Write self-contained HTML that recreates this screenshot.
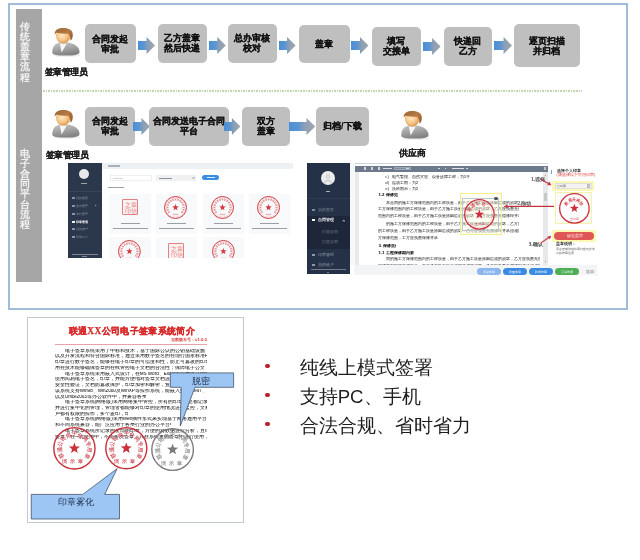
<!DOCTYPE html><html><head><meta charset="utf-8"><style>
*{margin:0;padding:0;box-sizing:border-box}
html,body{width:640px;height:560px;overflow:hidden;background:#fff;font-family:'Liberation Sans',sans-serif;}
.ab{position:absolute;display:block}
.bx{position:absolute;display:flex;align-items:center;justify-content:center;text-align:center;font-weight:bold;color:#111;white-space:nowrap;-webkit-text-stroke:0.2px #111}
.t{position:absolute;white-space:nowrap}
#wrap{position:absolute;left:0;top:0;width:640px;height:560px;background:#fff;filter:blur(0.3px)}
</style></head><body><div id="wrap">
<div class="ab" style="left:8px;top:3px;width:620px;height:307px;border:2px solid #a2bbd7"></div>
<div class="ab" style="left:16px;top:9px;width:26px;height:273px;background:#a6a6a6"></div>
<div class="t" style="left:20px;top:21.5px;width:10px;font-size:9.6px;line-height:10.2px;color:#f4f4f4;font-weight:bold;white-space:normal;text-align:center">传<br>统<br>盖<br>章<br>流<br>程</div>
<div class="t" style="left:20px;top:148.5px;width:10px;font-size:9.6px;line-height:10.2px;color:#f4f4f4;font-weight:bold;white-space:normal;text-align:center">电<br>子<br>合<br>同<br>平<br>台<br>流<br>程</div>
<svg class="ab" style="left:51px;top:27px" width="31" height="31" viewBox="0 0 31 31">
<defs>
<radialGradient id="ska" cx="0.42" cy="0.4" r="0.65"><stop offset="0" stop-color="#fde8c4"/><stop offset="0.55" stop-color="#f6c688"/><stop offset="1" stop-color="#d9914a"/></radialGradient>
<linearGradient id="bda" x1="0" x2="0.3" y1="0" y2="1"><stop offset="0" stop-color="#c6c6c6"/><stop offset="0.55" stop-color="#a2a2a2"/><stop offset="1" stop-color="#828282"/></linearGradient>
<linearGradient id="hra" x1="0" x2="1" y1="0" y2="1"><stop offset="0" stop-color="#9a6434"/><stop offset="0.5" stop-color="#b57a45"/><stop offset="1" stop-color="#8a5226"/></linearGradient>
</defs>
<ellipse cx="16" cy="28.6" rx="13.5" ry="1.4" fill="#000" opacity="0.07"/>
<path d="M1.2,25.5 C1.2,20 4,16.6 9,15.6 L16,15.6 C23,16.2 28.5,19.6 28.5,25 C28.5,27.6 24,28.6 15,28.6 C6,28.6 1.2,27.8 1.2,25.5 Z" fill="url(#bda)"/>
<path d="M8.8,16.2 L10.6,25.6 L15.8,16.6 Z" fill="#f6f6f6"/>
<path d="M5,8.5 C5,4.5 8,3 12,3 C16.5,3 19.2,5 19.2,9 C19.2,13 16.2,16.6 12,16.6 C8,16.6 5,13 5,8.5 Z" fill="url(#ska)"/>
<path d="M3.7,7.5 C3.4,2.8 7.5,1.1 12.6,1.1 C18,1.1 21.9,3.2 21.8,8 C21.8,10.6 21,12.6 19.4,13.6 C19.6,10.2 18.8,7.6 17.2,6.4 C13.5,6.9 8.5,6.6 5.4,5.8 C4.8,6.4 4.2,7 3.7,7.5 Z" fill="url(#hra)"/>
</svg>
<div class="t" style="left:44.6px;top:66.3px;font-size:9px;letter-spacing:-0.5px;font-weight:bold;color:#1a1a1a;-webkit-text-stroke:0.1px #1a1a1a">签章管理员</div>
<div class="bx" style="left:85px;top:24px;width:50.5px;height:39px;border-radius:5px;background:#bfbfbf"><div style="font-size:9px;line-height:10px;margin-top:0px">合同发起<br>审批</div></div>
<div class="bx" style="left:157.5px;top:24px;width:49.5px;height:38.5px;border-radius:5px;background:#bfbfbf"><div style="font-size:9px;line-height:10px;margin-top:0px">乙方盖章<br>然后快递</div></div>
<div class="bx" style="left:228px;top:24px;width:48.5px;height:38.5px;border-radius:5px;background:#bfbfbf"><div style="font-size:9px;line-height:10px;margin-top:0px">总办审核<br>校对</div></div>
<div class="bx" style="left:299px;top:25.2px;width:50.5px;height:38.3px;border-radius:5px;background:#bfbfbf"><div style="font-size:9px;line-height:10px;margin-top:0px">盖章</div></div>
<div class="bx" style="left:371.5px;top:26.5px;width:49.0px;height:39.0px;border-radius:5px;background:#bfbfbf"><div style="font-size:9px;line-height:10px;margin-top:0px">填写<br>交接单</div></div>
<div class="bx" style="left:443.5px;top:26.5px;width:48.5px;height:39.0px;border-radius:5px;background:#bfbfbf"><div style="font-size:9px;line-height:10px;margin-top:0px">快递回<br>乙方</div></div>
<div class="bx" style="left:514px;top:24.2px;width:65.5px;height:42.8px;border-radius:5px;background:#bfbfbf"><div style="font-size:9px;line-height:10px;margin-top:0px">逐页扫描<br>并归档</div></div>
<svg class="ab" style="left:138.2px;top:37.0px" width="17.0" height="17" viewBox="0 0 17.0 17"><defs><linearGradient id="ag1" x1="0" x2="1" y1="0" y2="0"><stop offset="0" stop-color="#4a8fd8"/><stop offset="0.35" stop-color="#5b95d2"/><stop offset="0.6" stop-color="#8c9fb5"/><stop offset="1" stop-color="#a2a6ac"/></linearGradient></defs><polygon points="0,4.0 8.600000000000023,4.0 8.600000000000023,0 17.0,8.5 8.600000000000023,17 8.600000000000023,13.0 0,13.0" fill="url(#ag1)"/></svg>
<svg class="ab" style="left:209px;top:37.0px" width="16.80000000000001" height="17" viewBox="0 0 16.80000000000001 17"><defs><linearGradient id="ag2" x1="0" x2="1" y1="0" y2="0"><stop offset="0" stop-color="#4a8fd8"/><stop offset="0.35" stop-color="#5b95d2"/><stop offset="0.6" stop-color="#8c9fb5"/><stop offset="1" stop-color="#a2a6ac"/></linearGradient></defs><polygon points="0,4.0 8.300000000000011,4.0 8.300000000000011,0 16.80000000000001,8.5 8.300000000000011,17 8.300000000000011,13.0 0,13.0" fill="url(#ag2)"/></svg>
<svg class="ab" style="left:279px;top:37.0px" width="16.600000000000023" height="17" viewBox="0 0 16.600000000000023 17"><defs><linearGradient id="ag3" x1="0" x2="1" y1="0" y2="0"><stop offset="0" stop-color="#4a8fd8"/><stop offset="0.35" stop-color="#5b95d2"/><stop offset="0.6" stop-color="#8c9fb5"/><stop offset="1" stop-color="#a2a6ac"/></linearGradient></defs><polygon points="0,4.0 8.100000000000023,4.0 8.100000000000023,0 16.600000000000023,8.5 8.100000000000023,17 8.100000000000023,13.0 0,13.0" fill="url(#ag3)"/></svg>
<svg class="ab" style="left:351px;top:37.0px" width="17.5" height="17" viewBox="0 0 17.5 17"><defs><linearGradient id="ag4" x1="0" x2="1" y1="0" y2="0"><stop offset="0" stop-color="#4a8fd8"/><stop offset="0.35" stop-color="#5b95d2"/><stop offset="0.6" stop-color="#8c9fb5"/><stop offset="1" stop-color="#a2a6ac"/></linearGradient></defs><polygon points="0,4.0 9.0,4.0 9.0,0 17.5,8.5 9.0,17 9.0,13.0 0,13.0" fill="url(#ag4)"/></svg>
<svg class="ab" style="left:423px;top:37.5px" width="17.600000000000023" height="17" viewBox="0 0 17.600000000000023 17"><defs><linearGradient id="ag5" x1="0" x2="1" y1="0" y2="0"><stop offset="0" stop-color="#4a8fd8"/><stop offset="0.35" stop-color="#5b95d2"/><stop offset="0.6" stop-color="#8c9fb5"/><stop offset="1" stop-color="#a2a6ac"/></linearGradient></defs><polygon points="0,4.0 9.100000000000023,4.0 9.100000000000023,0 17.600000000000023,8.5 9.100000000000023,17 9.100000000000023,13.0 0,13.0" fill="url(#ag5)"/></svg>
<svg class="ab" style="left:493.5px;top:37.3px" width="18.100000000000023" height="17" viewBox="0 0 18.100000000000023 17"><defs><linearGradient id="ag6" x1="0" x2="1" y1="0" y2="0"><stop offset="0" stop-color="#4a8fd8"/><stop offset="0.35" stop-color="#5b95d2"/><stop offset="0.6" stop-color="#8c9fb5"/><stop offset="1" stop-color="#a2a6ac"/></linearGradient></defs><polygon points="0,4.0 9.600000000000023,4.0 9.600000000000023,0 18.100000000000023,8.5 9.600000000000023,17 9.600000000000023,13.0 0,13.0" fill="url(#ag6)"/></svg>
<div class="ab" style="left:43px;top:90.4px;width:539px;height:1.2px;background:repeating-linear-gradient(90deg,#bfd6b0 0 1.6px,rgba(255,255,255,0) 1.6px 2.6px)"></div>
<svg class="ab" style="left:51px;top:109px" width="31" height="31" viewBox="0 0 31 31">
<defs>
<radialGradient id="skb" cx="0.42" cy="0.4" r="0.65"><stop offset="0" stop-color="#fde8c4"/><stop offset="0.55" stop-color="#f6c688"/><stop offset="1" stop-color="#d9914a"/></radialGradient>
<linearGradient id="bdb" x1="0" x2="0.3" y1="0" y2="1"><stop offset="0" stop-color="#c6c6c6"/><stop offset="0.55" stop-color="#a2a2a2"/><stop offset="1" stop-color="#828282"/></linearGradient>
<linearGradient id="hrb" x1="0" x2="1" y1="0" y2="1"><stop offset="0" stop-color="#9a6434"/><stop offset="0.5" stop-color="#b57a45"/><stop offset="1" stop-color="#8a5226"/></linearGradient>
</defs>
<ellipse cx="16" cy="28.6" rx="13.5" ry="1.4" fill="#000" opacity="0.07"/>
<path d="M1.2,25.5 C1.2,20 4,16.6 9,15.6 L16,15.6 C23,16.2 28.5,19.6 28.5,25 C28.5,27.6 24,28.6 15,28.6 C6,28.6 1.2,27.8 1.2,25.5 Z" fill="url(#bdb)"/>
<path d="M8.8,16.2 L10.6,25.6 L15.8,16.6 Z" fill="#f6f6f6"/>
<path d="M5,8.5 C5,4.5 8,3 12,3 C16.5,3 19.2,5 19.2,9 C19.2,13 16.2,16.6 12,16.6 C8,16.6 5,13 5,8.5 Z" fill="url(#skb)"/>
<path d="M3.7,7.5 C3.4,2.8 7.5,1.1 12.6,1.1 C18,1.1 21.9,3.2 21.8,8 C21.8,10.6 21,12.6 19.4,13.6 C19.6,10.2 18.8,7.6 17.2,6.4 C13.5,6.9 8.5,6.6 5.4,5.8 C4.8,6.4 4.2,7 3.7,7.5 Z" fill="url(#hrb)"/>
</svg>
<div class="t" style="left:45.7px;top:149px;font-size:9px;letter-spacing:-0.5px;font-weight:bold;color:#1a1a1a;-webkit-text-stroke:0.1px #1a1a1a">签章管理员</div>
<div class="bx" style="left:85.25px;top:106.5px;width:49.75px;height:39.0px;border-radius:5px;background:#bfbfbf"><div style="font-size:9px;line-height:10px;margin-top:0px">合同发起<br>审批</div></div>
<div class="bx" style="left:148.6px;top:106.5px;width:80.4px;height:39.0px;border-radius:5px;background:#bfbfbf"><div style="font-size:9px;line-height:10px;margin-top:0px">合同发送电子合同<br>平台</div></div>
<div class="bx" style="left:242.2px;top:106.5px;width:47.60000000000002px;height:39.0px;border-radius:5px;background:#bfbfbf"><div style="font-size:9px;line-height:10px;margin-top:0px">双方<br>盖章</div></div>
<div class="bx" style="left:315.6px;top:106.5px;width:53.39999999999998px;height:39.0px;border-radius:5px;background:#bfbfbf"><div style="font-size:9px;line-height:10px;margin-top:0px">归档/下载</div></div>
<svg class="ab" style="left:132.5px;top:117.8px" width="16.900000000000006" height="17" viewBox="0 0 16.900000000000006 17"><defs><linearGradient id="ag7" x1="0" x2="1" y1="0" y2="0"><stop offset="0" stop-color="#4a8fd8"/><stop offset="0.35" stop-color="#5b95d2"/><stop offset="0.6" stop-color="#8c9fb5"/><stop offset="1" stop-color="#a2a6ac"/></linearGradient></defs><polygon points="0,4.0 8.5,4.0 8.5,0 16.900000000000006,8.5 8.5,17 8.5,13.0 0,13.0" fill="url(#ag7)"/></svg>
<svg class="ab" style="left:224.4px;top:118.0px" width="16.400000000000006" height="17" viewBox="0 0 16.400000000000006 17"><defs><linearGradient id="ag8" x1="0" x2="1" y1="0" y2="0"><stop offset="0" stop-color="#4a8fd8"/><stop offset="0.35" stop-color="#5b95d2"/><stop offset="0.6" stop-color="#8c9fb5"/><stop offset="1" stop-color="#a2a6ac"/></linearGradient></defs><polygon points="0,4.0 7.900000000000006,4.0 7.900000000000006,0 16.400000000000006,8.5 7.900000000000006,17 7.900000000000006,13.0 0,13.0" fill="url(#ag8)"/></svg>
<svg class="ab" style="left:288.75px;top:117.9px" width="26.25" height="17" viewBox="0 0 26.25 17"><defs><linearGradient id="ag9" x1="0" x2="1" y1="0" y2="0"><stop offset="0" stop-color="#4a8fd8"/><stop offset="0.35" stop-color="#5b95d2"/><stop offset="0.6" stop-color="#8c9fb5"/><stop offset="1" stop-color="#a2a6ac"/></linearGradient></defs><polygon points="0,4.0 17.5,4.0 17.5,0 26.25,8.5 17.5,17 17.5,13.0 0,13.0" fill="url(#ag9)"/></svg>
<svg class="ab" style="left:400px;top:110px" width="31" height="31" viewBox="0 0 31 31">
<defs>
<radialGradient id="skc" cx="0.42" cy="0.4" r="0.65"><stop offset="0" stop-color="#fde8c4"/><stop offset="0.55" stop-color="#f6c688"/><stop offset="1" stop-color="#d9914a"/></radialGradient>
<linearGradient id="bdc" x1="0" x2="0.3" y1="0" y2="1"><stop offset="0" stop-color="#c6c6c6"/><stop offset="0.55" stop-color="#a2a2a2"/><stop offset="1" stop-color="#828282"/></linearGradient>
<linearGradient id="hrc" x1="0" x2="1" y1="0" y2="1"><stop offset="0" stop-color="#9a6434"/><stop offset="0.5" stop-color="#b57a45"/><stop offset="1" stop-color="#8a5226"/></linearGradient>
</defs>
<ellipse cx="16" cy="28.6" rx="13.5" ry="1.4" fill="#000" opacity="0.07"/>
<path d="M1.2,25.5 C1.2,20 4,16.6 9,15.6 L16,15.6 C23,16.2 28.5,19.6 28.5,25 C28.5,27.6 24,28.6 15,28.6 C6,28.6 1.2,27.8 1.2,25.5 Z" fill="url(#bdc)"/>
<path d="M8.8,16.2 L10.6,25.6 L15.8,16.6 Z" fill="#f6f6f6"/>
<path d="M5,8.5 C5,4.5 8,3 12,3 C16.5,3 19.2,5 19.2,9 C19.2,13 16.2,16.6 12,16.6 C8,16.6 5,13 5,8.5 Z" fill="url(#skc)"/>
<path d="M3.7,7.5 C3.4,2.8 7.5,1.1 12.6,1.1 C18,1.1 21.9,3.2 21.8,8 C21.8,10.6 21,12.6 19.4,13.6 C19.6,10.2 18.8,7.6 17.2,6.4 C13.5,6.9 8.5,6.6 5.4,5.8 C4.8,6.4 4.2,7 3.7,7.5 Z" fill="url(#hrc)"/>
</svg>
<div class="t" style="left:398.6px;top:148px;font-size:8.5px;font-weight:bold;color:#1a1a1a;-webkit-text-stroke:0.1px #1a1a1a">供应商</div>
<div class="ab" style="left:68px;top:162.8px;width:33.8px;height:95.6px;background:#2b374b"></div>
<div class="ab" style="left:79.3px;top:169.1px;width:10.2px;height:10.2px;border-radius:50%;background:#e9e9e9"></div>
<div class="ab" style="left:81.3px;top:183px;width:5.5px;height:1.3px;background:#9aa3b0"></div>
<div class="ab" style="left:68px;top:190.5px;width:33.8px;height:0.6px;background:#36445a"></div>
<div class="ab" style="left:72.2px;top:197.2px;width:2.4px;height:2px;background:#8a94a4"></div>
<div class="t" style="left:76.4px;top:196.2px;font-size:3.3px;line-height:4px;color:#8a94a4;font-weight:normal">我的首页</div>
<div class="ab" style="left:72.2px;top:204.8px;width:2.4px;height:2px;background:#8a94a4"></div>
<div class="t" style="left:76.4px;top:203.8px;font-size:3.3px;line-height:4px;color:#8a94a4;font-weight:normal">合同管理</div>
<div class="ab" style="left:72.2px;top:212.8px;width:2.4px;height:2px;background:#8a94a4"></div>
<div class="t" style="left:76.4px;top:211.8px;font-size:3.3px;line-height:4px;color:#8a94a4;font-weight:normal">签约管理</div>
<div class="ab" style="left:72.2px;top:220.5px;width:2.4px;height:2px;background:#f2f4f6"></div>
<div class="t" style="left:76.4px;top:219.5px;font-size:3.3px;line-height:4px;color:#f2f4f6;font-weight:bold">印章管理</div>
<div class="ab" style="left:72.2px;top:228px;width:2.4px;height:2px;background:#8a94a4"></div>
<div class="t" style="left:76.4px;top:227px;font-size:3.3px;line-height:4px;color:#8a94a4;font-weight:normal">我的账户</div>
<div class="ab" style="left:72.2px;top:236px;width:2.4px;height:2px;background:#8a94a4"></div>
<div class="t" style="left:76.4px;top:235px;font-size:3.3px;line-height:4px;color:#8a94a4;font-weight:normal">帮助中心</div>
<div class="ab" style="left:95.3px;top:205px;width:1.4px;height:1.4px;border-right:0.5px solid #8e98a8;border-bottom:0.5px solid #8e98a8;transform:rotate(45deg)"></div>
<div class="ab" style="left:72px;top:253.8px;width:25.6px;height:1.2px;background:#7d8797"></div>
<div class="ab" style="left:82px;top:256.3px;width:5px;height:1px;background:#7d8797"></div>
<div class="ab" style="left:101.8px;top:162.8px;width:193px;height:96px;background:#ffffff"></div>
<div class="ab" style="left:101.8px;top:163.2px;width:191.5px;height:5.5px;background:#eef1f4"></div>
<div class="ab" style="left:108px;top:165.4px;width:12px;height:1.2px;background:#a8b0ba"></div>
<div class="ab" style="left:110px;top:175.2px;width:41.5px;height:5.4px;border:0.5px solid #eceef0;background:#fff"></div>
<div class="ab" style="left:113px;top:177.5px;width:10px;height:1px;background:#d4d8dd"></div>
<div class="ab" style="left:156px;top:175.2px;width:40px;height:5.6px;background:#f0f1f3"></div>
<div class="ab" style="left:158.5px;top:177.5px;width:13px;height:1.1px;background:#8d939b"></div>
<div class="ab" style="left:192px;top:176.5px;width:2.5px;height:2.5px;background:#c9ccd0"></div>
<div class="ab" style="left:202.4px;top:175.1px;width:16.8px;height:4.8px;border-radius:3px;background:#3b8ee6"></div>
<div class="ab" style="left:206.5px;top:177px;width:8.5px;height:1px;background:#d6e7fb"></div>
<div class="ab" style="left:108px;top:187px;width:16px;height:1.2px;background:#9aa1aa"></div>
<div class="ab" style="left:109.4px;top:193.8px;width:41.400000000000006px;height:40.5px;background:#f8f9fb"></div>
<div class="ab" style="left:121.90000000000002px;top:199px;width:15.8px;height:15.8px;border:1px solid #e27474;border-radius:1px;background:#fdf1f1;opacity:.9"><div style="position:absolute;left:1.896px;top:1.58px;width:12.008000000000001px;font-size:5.688px;line-height:6.0040000000000004px;color:#e27474;display:grid;grid-template-columns:1fr 1fr;text-align:center"><span>之</span><span>章</span><span>印</span><span>信</span></div></div>
<div class="ab" style="left:120.60000000000002px;top:222.9px;width:19px;height:1.1px;background:#9a9fa6"></div>
<div class="ab" style="left:112.60000000000002px;top:228.3px;width:35px;height:1.1px;background:#9a9fa6"></div>
<div class="ab" style="left:156px;top:193.8px;width:41.19999999999999px;height:40.5px;background:#f8f9fb"></div>
<svg class="ab" style="left:162.0px;top:194.0px;opacity:1.0" width="27.0" height="27.0" viewBox="0 0 27.0 27.0"><circle cx="13.5" cy="13.5" r="11.0" fill="none" stroke="#d43a40" stroke-width="1.0"/><circle cx="13.5" cy="13.5" r="9.66" fill="none" stroke="#d43a40" stroke-width="0.4" opacity="0.45"/><rect x="6.16" y="17.20" width="1.50" height="1.84" fill="#d43a40" opacity="0.55" transform="rotate(-125.0 6.91 18.12)"/><rect x="5.06" y="14.95" width="1.50" height="1.84" fill="#d43a40" opacity="0.55" transform="rotate(-107.1 5.81 15.87)"/><rect x="4.70" y="12.48" width="1.50" height="1.84" fill="#d43a40" opacity="0.55" transform="rotate(-89.3 5.45 13.40)"/><rect x="5.12" y="10.02" width="1.50" height="1.84" fill="#d43a40" opacity="0.55" transform="rotate(-71.4 5.87 10.94)"/><rect x="6.28" y="7.80" width="1.50" height="1.84" fill="#d43a40" opacity="0.55" transform="rotate(-53.6 7.02 8.72)"/><rect x="8.05" y="6.04" width="1.50" height="1.84" fill="#d43a40" opacity="0.55" transform="rotate(-35.7 8.80 6.96)"/><rect x="10.28" y="4.92" width="1.50" height="1.84" fill="#d43a40" opacity="0.55" transform="rotate(-17.9 11.03 5.84)"/><rect x="12.75" y="4.53" width="1.50" height="1.84" fill="#d43a40" opacity="0.55" transform="rotate(0.0 13.50 5.45)"/><rect x="15.22" y="4.92" width="1.50" height="1.84" fill="#d43a40" opacity="0.55" transform="rotate(17.9 15.97 5.84)"/><rect x="17.45" y="6.04" width="1.50" height="1.84" fill="#d43a40" opacity="0.55" transform="rotate(35.7 18.20 6.96)"/><rect x="19.23" y="7.80" width="1.50" height="1.84" fill="#d43a40" opacity="0.55" transform="rotate(53.6 19.98 8.72)"/><rect x="20.38" y="10.02" width="1.50" height="1.84" fill="#d43a40" opacity="0.55" transform="rotate(71.4 21.13 10.94)"/><rect x="20.80" y="12.48" width="1.50" height="1.84" fill="#d43a40" opacity="0.55" transform="rotate(89.3 21.55 13.40)"/><rect x="20.44" y="14.95" width="1.50" height="1.84" fill="#d43a40" opacity="0.55" transform="rotate(107.1 21.19 15.87)"/><rect x="19.35" y="17.20" width="1.50" height="1.84" fill="#d43a40" opacity="0.55" transform="rotate(125.0 20.09 18.12)"/><rect x="10.62" y="19.82" width="5.75" height="1.38" fill="#d43a40" opacity="0.35"/><polygon points="13.50,10.10 14.34,12.34 16.73,12.45 14.86,13.94 15.50,16.25 13.50,14.93 11.50,16.25 12.14,13.94 10.27,12.45 12.66,12.34" fill="#d43a40"/></svg>
<div class="ab" style="left:167.1px;top:222.9px;width:19px;height:1.1px;background:#9a9fa6"></div>
<div class="ab" style="left:159.1px;top:228.3px;width:35px;height:1.1px;background:#9a9fa6"></div>
<div class="ab" style="left:202.9px;top:193.8px;width:40.900000000000006px;height:40.5px;background:#f8f9fb"></div>
<svg class="ab" style="left:208.75000000000003px;top:194.0px;opacity:1.0" width="27.0" height="27.0" viewBox="0 0 27.0 27.0"><circle cx="13.5" cy="13.5" r="11.0" fill="none" stroke="#d43a40" stroke-width="1.0"/><circle cx="13.5" cy="13.5" r="9.66" fill="none" stroke="#d43a40" stroke-width="0.4" opacity="0.45"/><rect x="6.16" y="17.20" width="1.50" height="1.84" fill="#d43a40" opacity="0.55" transform="rotate(-125.0 6.91 18.12)"/><rect x="5.06" y="14.95" width="1.50" height="1.84" fill="#d43a40" opacity="0.55" transform="rotate(-107.1 5.81 15.87)"/><rect x="4.70" y="12.48" width="1.50" height="1.84" fill="#d43a40" opacity="0.55" transform="rotate(-89.3 5.45 13.40)"/><rect x="5.12" y="10.02" width="1.50" height="1.84" fill="#d43a40" opacity="0.55" transform="rotate(-71.4 5.87 10.94)"/><rect x="6.28" y="7.80" width="1.50" height="1.84" fill="#d43a40" opacity="0.55" transform="rotate(-53.6 7.02 8.72)"/><rect x="8.05" y="6.04" width="1.50" height="1.84" fill="#d43a40" opacity="0.55" transform="rotate(-35.7 8.80 6.96)"/><rect x="10.28" y="4.92" width="1.50" height="1.84" fill="#d43a40" opacity="0.55" transform="rotate(-17.9 11.03 5.84)"/><rect x="12.75" y="4.53" width="1.50" height="1.84" fill="#d43a40" opacity="0.55" transform="rotate(0.0 13.50 5.45)"/><rect x="15.22" y="4.92" width="1.50" height="1.84" fill="#d43a40" opacity="0.55" transform="rotate(17.9 15.97 5.84)"/><rect x="17.45" y="6.04" width="1.50" height="1.84" fill="#d43a40" opacity="0.55" transform="rotate(35.7 18.20 6.96)"/><rect x="19.23" y="7.80" width="1.50" height="1.84" fill="#d43a40" opacity="0.55" transform="rotate(53.6 19.98 8.72)"/><rect x="20.38" y="10.02" width="1.50" height="1.84" fill="#d43a40" opacity="0.55" transform="rotate(71.4 21.13 10.94)"/><rect x="20.80" y="12.48" width="1.50" height="1.84" fill="#d43a40" opacity="0.55" transform="rotate(89.3 21.55 13.40)"/><rect x="20.44" y="14.95" width="1.50" height="1.84" fill="#d43a40" opacity="0.55" transform="rotate(107.1 21.19 15.87)"/><rect x="19.35" y="17.20" width="1.50" height="1.84" fill="#d43a40" opacity="0.55" transform="rotate(125.0 20.09 18.12)"/><rect x="10.62" y="19.82" width="5.75" height="1.38" fill="#d43a40" opacity="0.35"/><polygon points="13.50,10.10 14.34,12.34 16.73,12.45 14.86,13.94 15.50,16.25 13.50,14.93 11.50,16.25 12.14,13.94 10.27,12.45 12.66,12.34" fill="#d43a40"/></svg>
<div class="ab" style="left:213.85000000000002px;top:222.9px;width:19px;height:1.1px;background:#9a9fa6"></div>
<div class="ab" style="left:205.85000000000002px;top:228.3px;width:35px;height:1.1px;background:#9a9fa6"></div>
<div class="ab" style="left:249.3px;top:193.8px;width:41.19999999999999px;height:40.5px;background:#f8f9fb"></div>
<svg class="ab" style="left:255.29999999999995px;top:194.0px;opacity:1.0" width="27.0" height="27.0" viewBox="0 0 27.0 27.0"><circle cx="13.5" cy="13.5" r="11.0" fill="none" stroke="#d43a40" stroke-width="1.0"/><circle cx="13.5" cy="13.5" r="9.66" fill="none" stroke="#d43a40" stroke-width="0.4" opacity="0.45"/><rect x="6.16" y="17.20" width="1.50" height="1.84" fill="#d43a40" opacity="0.55" transform="rotate(-125.0 6.91 18.12)"/><rect x="5.06" y="14.95" width="1.50" height="1.84" fill="#d43a40" opacity="0.55" transform="rotate(-107.1 5.81 15.87)"/><rect x="4.70" y="12.48" width="1.50" height="1.84" fill="#d43a40" opacity="0.55" transform="rotate(-89.3 5.45 13.40)"/><rect x="5.12" y="10.02" width="1.50" height="1.84" fill="#d43a40" opacity="0.55" transform="rotate(-71.4 5.87 10.94)"/><rect x="6.28" y="7.80" width="1.50" height="1.84" fill="#d43a40" opacity="0.55" transform="rotate(-53.6 7.02 8.72)"/><rect x="8.05" y="6.04" width="1.50" height="1.84" fill="#d43a40" opacity="0.55" transform="rotate(-35.7 8.80 6.96)"/><rect x="10.28" y="4.92" width="1.50" height="1.84" fill="#d43a40" opacity="0.55" transform="rotate(-17.9 11.03 5.84)"/><rect x="12.75" y="4.53" width="1.50" height="1.84" fill="#d43a40" opacity="0.55" transform="rotate(0.0 13.50 5.45)"/><rect x="15.22" y="4.92" width="1.50" height="1.84" fill="#d43a40" opacity="0.55" transform="rotate(17.9 15.97 5.84)"/><rect x="17.45" y="6.04" width="1.50" height="1.84" fill="#d43a40" opacity="0.55" transform="rotate(35.7 18.20 6.96)"/><rect x="19.23" y="7.80" width="1.50" height="1.84" fill="#d43a40" opacity="0.55" transform="rotate(53.6 19.98 8.72)"/><rect x="20.38" y="10.02" width="1.50" height="1.84" fill="#d43a40" opacity="0.55" transform="rotate(71.4 21.13 10.94)"/><rect x="20.80" y="12.48" width="1.50" height="1.84" fill="#d43a40" opacity="0.55" transform="rotate(89.3 21.55 13.40)"/><rect x="20.44" y="14.95" width="1.50" height="1.84" fill="#d43a40" opacity="0.55" transform="rotate(107.1 21.19 15.87)"/><rect x="19.35" y="17.20" width="1.50" height="1.84" fill="#d43a40" opacity="0.55" transform="rotate(125.0 20.09 18.12)"/><rect x="10.62" y="19.82" width="5.75" height="1.38" fill="#d43a40" opacity="0.35"/><polygon points="13.50,10.10 14.34,12.34 16.73,12.45 14.86,13.94 15.50,16.25 13.50,14.93 11.50,16.25 12.14,13.94 10.27,12.45 12.66,12.34" fill="#d43a40"/></svg>
<div class="ab" style="left:260.4px;top:222.9px;width:19px;height:1.1px;background:#9a9fa6"></div>
<div class="ab" style="left:252.39999999999998px;top:228.3px;width:35px;height:1.1px;background:#9a9fa6"></div>
<div class="ab" style="left:109.4px;top:237px;width:41.400000000000006px;height:21.4px;background:#f8f9fb;overflow:hidden"></div>
<div class="ab" style="left:156px;top:237px;width:41.19999999999999px;height:21.4px;background:#f8f9fb;overflow:hidden"></div>
<div class="ab" style="left:202.9px;top:237px;width:40.900000000000006px;height:21.4px;background:#f8f9fb;overflow:hidden"></div>
<div class="ab" style="left:0;top:0;width:640px;height:258.4px;overflow:hidden">
<svg class="ab" style="left:116.19999999999999px;top:238.1px;opacity:1.0" width="26.8" height="26.8" viewBox="0 0 26.8 26.8"><circle cx="13.4" cy="13.4" r="10.9" fill="none" stroke="#d43a40" stroke-width="1.0"/><circle cx="13.4" cy="13.4" r="9.576" fill="none" stroke="#d43a40" stroke-width="0.4" opacity="0.45"/><rect x="6.12" y="17.07" width="1.48" height="1.82" fill="#d43a40" opacity="0.55" transform="rotate(-125.0 6.86 17.98)"/><rect x="5.03" y="14.84" width="1.48" height="1.82" fill="#d43a40" opacity="0.55" transform="rotate(-107.1 5.77 15.75)"/><rect x="4.68" y="12.39" width="1.48" height="1.82" fill="#d43a40" opacity="0.55" transform="rotate(-89.3 5.42 13.30)"/><rect x="5.09" y="9.95" width="1.48" height="1.82" fill="#d43a40" opacity="0.55" transform="rotate(-71.4 5.84 10.86)"/><rect x="6.24" y="7.75" width="1.48" height="1.82" fill="#d43a40" opacity="0.55" transform="rotate(-53.6 6.98 8.66)"/><rect x="8.00" y="6.01" width="1.48" height="1.82" fill="#d43a40" opacity="0.55" transform="rotate(-35.7 8.74 6.92)"/><rect x="10.21" y="4.89" width="1.48" height="1.82" fill="#d43a40" opacity="0.55" transform="rotate(-17.9 10.95 5.80)"/><rect x="12.66" y="4.51" width="1.48" height="1.82" fill="#d43a40" opacity="0.55" transform="rotate(0.0 13.40 5.42)"/><rect x="15.11" y="4.89" width="1.48" height="1.82" fill="#d43a40" opacity="0.55" transform="rotate(17.9 15.85 5.80)"/><rect x="17.32" y="6.01" width="1.48" height="1.82" fill="#d43a40" opacity="0.55" transform="rotate(35.7 18.06 6.92)"/><rect x="19.08" y="7.75" width="1.48" height="1.82" fill="#d43a40" opacity="0.55" transform="rotate(53.6 19.82 8.66)"/><rect x="20.22" y="9.95" width="1.48" height="1.82" fill="#d43a40" opacity="0.55" transform="rotate(71.4 20.96 10.86)"/><rect x="20.64" y="12.39" width="1.48" height="1.82" fill="#d43a40" opacity="0.55" transform="rotate(89.3 21.38 13.30)"/><rect x="20.28" y="14.84" width="1.48" height="1.82" fill="#d43a40" opacity="0.55" transform="rotate(107.1 21.03 15.75)"/><rect x="19.20" y="17.07" width="1.48" height="1.82" fill="#d43a40" opacity="0.55" transform="rotate(125.0 19.94 17.98)"/><rect x="10.55" y="19.67" width="5.70" height="1.37" fill="#d43a40" opacity="0.35"/><polygon points="13.40,10.00 14.24,12.24 16.63,12.35 14.76,13.84 15.40,16.15 13.40,14.83 11.40,16.15 12.04,13.84 10.17,12.35 12.56,12.24" fill="#d43a40"/></svg>
<div class="ab" style="left:168.4px;top:243px;width:15.8px;height:15.8px;border:1px solid #e27474;border-radius:1px;background:#fdf1f1;opacity:.9"><div style="position:absolute;left:1.896px;top:1.58px;width:12.008000000000001px;font-size:5.688px;line-height:6.0040000000000004px;color:#e27474;display:grid;grid-template-columns:1fr 1fr;text-align:center"><span>之</span><span>章</span><span>印</span><span>信</span></div></div>
<svg class="ab" style="left:209.9px;top:238.1px;opacity:1.0" width="26.8" height="26.8" viewBox="0 0 26.8 26.8"><circle cx="13.4" cy="13.4" r="10.9" fill="none" stroke="#d43a40" stroke-width="1.0"/><circle cx="13.4" cy="13.4" r="9.576" fill="none" stroke="#d43a40" stroke-width="0.4" opacity="0.45"/><rect x="6.12" y="17.07" width="1.48" height="1.82" fill="#d43a40" opacity="0.55" transform="rotate(-125.0 6.86 17.98)"/><rect x="5.03" y="14.84" width="1.48" height="1.82" fill="#d43a40" opacity="0.55" transform="rotate(-107.1 5.77 15.75)"/><rect x="4.68" y="12.39" width="1.48" height="1.82" fill="#d43a40" opacity="0.55" transform="rotate(-89.3 5.42 13.30)"/><rect x="5.09" y="9.95" width="1.48" height="1.82" fill="#d43a40" opacity="0.55" transform="rotate(-71.4 5.84 10.86)"/><rect x="6.24" y="7.75" width="1.48" height="1.82" fill="#d43a40" opacity="0.55" transform="rotate(-53.6 6.98 8.66)"/><rect x="8.00" y="6.01" width="1.48" height="1.82" fill="#d43a40" opacity="0.55" transform="rotate(-35.7 8.74 6.92)"/><rect x="10.21" y="4.89" width="1.48" height="1.82" fill="#d43a40" opacity="0.55" transform="rotate(-17.9 10.95 5.80)"/><rect x="12.66" y="4.51" width="1.48" height="1.82" fill="#d43a40" opacity="0.55" transform="rotate(0.0 13.40 5.42)"/><rect x="15.11" y="4.89" width="1.48" height="1.82" fill="#d43a40" opacity="0.55" transform="rotate(17.9 15.85 5.80)"/><rect x="17.32" y="6.01" width="1.48" height="1.82" fill="#d43a40" opacity="0.55" transform="rotate(35.7 18.06 6.92)"/><rect x="19.08" y="7.75" width="1.48" height="1.82" fill="#d43a40" opacity="0.55" transform="rotate(53.6 19.82 8.66)"/><rect x="20.22" y="9.95" width="1.48" height="1.82" fill="#d43a40" opacity="0.55" transform="rotate(71.4 20.96 10.86)"/><rect x="20.64" y="12.39" width="1.48" height="1.82" fill="#d43a40" opacity="0.55" transform="rotate(89.3 21.38 13.30)"/><rect x="20.28" y="14.84" width="1.48" height="1.82" fill="#d43a40" opacity="0.55" transform="rotate(107.1 21.03 15.75)"/><rect x="19.20" y="17.07" width="1.48" height="1.82" fill="#d43a40" opacity="0.55" transform="rotate(125.0 19.94 17.98)"/><rect x="10.55" y="19.67" width="5.70" height="1.37" fill="#d43a40" opacity="0.35"/><polygon points="13.40,10.00 14.24,12.24 16.63,12.35 14.76,13.84 15.40,16.15 13.40,14.83 11.40,16.15 12.04,13.84 10.17,12.35 12.56,12.24" fill="#d43a40"/></svg>
</div>
<div class="ab" style="left:306.9px;top:162.6px;width:290.6px;height:113.6px;background:#fff;border-top:0.8px solid #cdd5de;border-right:0.6px solid #e4e8ec"></div>
<div class="ab" style="left:306.9px;top:162.8px;width:43.5px;height:111.6px;background:#253146"></div>
<div class="ab" style="left:306.9px;top:215.8px;width:43.5px;height:32.8px;background:#1d2739"></div>
<div class="ab" style="left:321.1px;top:171.4px;width:14px;height:14px;border-radius:50%;background:#ececec"></div>
<div class="ab" style="left:325.8px;top:174.3px;width:4.6px;height:4.6px;border-radius:50%;border:0.5px solid #c8c8c8"></div>
<div class="ab" style="left:323.8px;top:179.5px;width:8.6px;height:4px;border-radius:4px 4px 0 0;border:0.5px solid #c8c8c8;border-bottom:none"></div>
<div class="ab" style="left:326.3px;top:190.6px;width:4px;height:1.1px;background:#aab2be"></div>
<div class="ab" style="left:306.9px;top:197.8px;width:43.5px;height:0.7px;background:#2f3c52"></div>
<div class="ab" style="left:312.3px;top:208.8px;width:2.6px;height:2.4px;background:#7f8a9b"></div>
<div class="t" style="left:318.2px;top:208px;font-size:3.6px;line-height:4px;color:#7f8a9b;font-weight:normal">我的首页</div>
<div class="ab" style="left:312.3px;top:219.10000000000002px;width:2.6px;height:2.4px;background:#f4f6f8"></div>
<div class="t" style="left:318.2px;top:218.3px;font-size:3.6px;line-height:4px;color:#f4f6f8;font-weight:bold">合同管理</div>
<div class="ab" style="left:342.5px;top:219.8px;width:1.6px;height:1.6px;border-left:0.5px solid #9aa3b0;border-top:0.5px solid #9aa3b0;transform:rotate(45deg)"></div>
<div class="t" style="left:322px;top:230px;font-size:3.6px;line-height:4px;color:#6f7a8b;font-weight:normal">待签合同</div>
<div class="t" style="left:322px;top:239.5px;font-size:3.6px;line-height:4px;color:#6f7a8b;font-weight:normal">已签合同</div>
<div class="ab" style="left:312.3px;top:253.8px;width:2.6px;height:2.4px;background:#8e98a8"></div>
<div class="t" style="left:318.2px;top:253px;font-size:3.6px;line-height:4px;color:#8e98a8;font-weight:normal">印章管理</div>
<div class="ab" style="left:312.3px;top:263.6px;width:2.6px;height:2.4px;background:#8e98a8"></div>
<div class="t" style="left:318.2px;top:262.8px;font-size:3.6px;line-height:4px;color:#8e98a8;font-weight:normal">我的账户</div>
<div class="ab" style="left:311px;top:269px;width:34.5px;height:1px;background:#6f7a8b"></div>
<div class="ab" style="left:327px;top:272px;width:2px;height:1px;background:#6f7a8b"></div>
<div class="ab" style="left:350.4px;top:162.8px;width:4.4px;height:102.7px;background:#f7f8f9"></div>
<div class="ab" style="left:354.8px;top:165.5px;width:193.6px;height:6.2px;background:#6c7a8c"></div>
<div class="ab" style="left:364px;top:167.4px;width:2.2px;height:2.4px;background:#e2e6ea;opacity:.85"></div>
<div class="ab" style="left:371px;top:167.4px;width:2.2px;height:2.4px;background:#e2e6ea;opacity:.85"></div>
<div class="ab" style="left:378px;top:167.4px;width:2.2px;height:2.4px;background:#e2e6ea;opacity:.85"></div>
<div class="ab" style="left:383px;top:167.9px;width:8.5px;height:1.5px;background:#d5dae0"></div>
<div class="ab" style="left:394px;top:166.8px;width:16.5px;height:3.6px;background:#8190a1;border:0.4px solid #9aa7b5"></div>
<div class="ab" style="left:406px;top:167.9px;width:2.5px;height:1.4px;background:#d5dae0"></div>
<div class="ab" style="left:438px;top:167.8px;width:1.6px;height:1.6px;background:#d5dae0"></div>
<div class="ab" style="left:444.5px;top:167.8px;width:1.6px;height:1.6px;background:#d5dae0"></div>
<div class="ab" style="left:451.6px;top:167.7px;width:12px;height:1.8px;background:#dfe3e8"></div>
<div class="ab" style="left:466px;top:167.9px;width:1.6px;height:1.4px;background:#d5dae0"></div>
<div class="ab" style="left:543.5px;top:167.3px;width:2.8px;height:2.8px;background:#d5dae0;opacity:.8"></div>
<div class="ab" style="left:354.8px;top:171.7px;width:4.6px;height:93.8px;background:#e9eaec"></div>
<div class="ab" style="left:359.4px;top:171.7px;width:183.2px;height:93.8px;background:#ffffff"></div>
<div class="ab" style="left:542.6px;top:171.7px;width:5.8px;height:93.8px;background:#e7e8ea"></div>
<div class="ab" style="left:543.6px;top:192.5px;width:3.8px;height:8.5px;background:#c5c7ca"></div>
<div class="ab" style="left:544.3px;top:175px;width:2.4px;height:1.4px;background:#8c9096;clip-path:polygon(50% 0,100% 100%,0 100%)"></div>
<div class="ab" style="left:544.3px;top:260.5px;width:2.4px;height:1.4px;background:#8c9096;clip-path:polygon(0 0,100% 0,50% 100%)"></div>
<div class="t" style="left:391.7px;top:175.1px;width:78.30000000000001px;overflow:hidden;font-size:4.4px;line-height:4.6px;color:#111;font-weight:normal">电气警报、自然灾害、设备故障工程，为1年。</div>
<div class="t" style="left:391.7px;top:180.7px;width:26.600000000000023px;overflow:hidden;font-size:4.4px;line-height:4.6px;color:#111;font-weight:normal">据该工期：为2年。</div>
<div class="t" style="left:391.7px;top:186.5px;width:26.600000000000023px;overflow:hidden;font-size:4.4px;line-height:4.6px;color:#111;font-weight:normal">质检期示：为2年。</div>
<div class="t" style="left:378.4px;top:193.0px;width:19.600000000000023px;overflow:hidden;font-size:4.4px;line-height:4.6px;color:#000;font-weight:bold">1.2 保修范围：</div>
<div class="t" style="left:385.5px;top:200.5px;width:133.5px;overflow:hidden;font-size:4.4px;line-height:4.6px;color:#111;font-weight:normal">本合同的施工方保修范围内的工程质量，由于乙方施工质量原因造成的损坏，乙方应负责无偿修理并承担相应的费用，保修期内发生的质量问题由乙方负责处理。</div>
<div class="t" style="left:378.4px;top:207.25px;width:140.60000000000002px;overflow:hidden;font-size:4.4px;line-height:4.6px;color:#111;font-weight:normal">工方保修范围内的工程质量，由于乙方施工质量原因造成的损坏，乙方应负责无偿修理并承担相应的费用，保修期内发生的质量问题由乙方负责处理。</div>
<div class="t" style="left:378.4px;top:214.3px;width:140.60000000000002px;overflow:hidden;font-size:4.4px;line-height:4.6px;color:#111;font-weight:normal">范围内的工程质量，由于乙方施工质量原因造成的损坏，乙方应负责无偿修理并承担相应的费用，保修期内发生的质量问题由乙方负责处理。</div>
<div class="t" style="left:385.5px;top:221.6px;width:133.5px;overflow:hidden;font-size:4.4px;line-height:4.6px;color:#111;font-weight:normal">的施工方保修范围内的工程质量，由于乙方施工质量原因造成的损坏，乙方应负责无偿修理并承担相应的费用，保修期内发生的质量问题由乙方负责处理。</div>
<div class="t" style="left:378.4px;top:228.5px;width:140.60000000000002px;overflow:hidden;font-size:4.4px;line-height:4.6px;color:#111;font-weight:normal">的工程质量，由于乙方施工质量原因造成的损坏，乙方应负责无偿修理并承担相应的费用，保修期内发生的质量问题由乙方负责处理。</div>
<div class="t" style="left:378.4px;top:235.5px;width:59.60000000000002px;overflow:hidden;font-size:4.4px;line-height:4.6px;color:#111;font-weight:normal">方保修范围，工方应负责保修并承担相应。</div>
<div class="t" style="left:378.4px;top:244.1px;width:17.600000000000023px;overflow:hidden;font-size:4.4px;line-height:4.6px;color:#000;font-weight:bold">3. 保修责任：</div>
<div class="t" style="left:378.4px;top:250.8px;width:35.60000000000002px;overflow:hidden;font-size:4.4px;line-height:4.6px;color:#000;font-weight:bold">1.1 工程保修期内要求：</div>
<div class="t" style="left:385.5px;top:257.4px;width:154.5px;overflow:hidden;font-size:4.4px;line-height:4.6px;color:#111;font-weight:normal">同的施工方保修范围内的工程质量，由于乙方施工质量原因造成的损坏，乙方应负责无偿修理并承担相应的费用，保修期内发生的质量问题由乙方负责处理。</div>
<div class="t" style="left:378.4px;top:263.8px;width:161.60000000000002px;overflow:hidden;font-size:4.4px;line-height:4.6px;color:#111;font-weight:normal">保修范围内的工程质量，由于乙方施工质量原因造成的损坏，乙方应负责无偿修理并承担相应的费用，保修期内发生的质量问题由乙方负责处理。</div>
<div class="t" style="left:385.3px;top:175.1px;font-size:4.3px;line-height:4.6px;color:#333">c)</div>
<div class="t" style="left:385.3px;top:180.7px;font-size:4.3px;line-height:4.6px;color:#333">d)</div>
<div class="t" style="left:385.3px;top:186.5px;font-size:4.3px;line-height:4.6px;color:#333">e)</div>
<div class="ab" style="left:353.5px;top:265.2px;width:243.8px;height:10.3px;background:#f3f4f6"></div>
<div class="ab" style="left:459.7px;top:193.4px;width:42.2px;height:41.3px;border:1.6px solid #f4ef8c;background:rgba(255,255,220,0.35)"></div>
<div class="ab" style="left:462px;top:197.8px;width:36.5px;height:33.2px;border:0.6px solid #bcc6d2"></div>
<svg class="ab" style="left:461.6px;top:196.7px;opacity:1.0" width="34.8" height="34.8" viewBox="0 0 34.8 34.8"><circle cx="17.4" cy="17.4" r="14.75" fill="none" stroke="#cc3040" stroke-width="1.3"/><circle cx="17.4" cy="17.4" r="12.936" fill="none" stroke="#cc3040" stroke-width="0.4" opacity="0.45"/><polygon points="17.40,12.40 18.63,15.70 22.16,15.85 19.40,18.05 20.34,21.45 17.40,19.50 14.46,21.45 15.40,18.05 12.64,15.85 16.17,15.70" fill="#cc3040"/></svg>
<svg class="ab" style="left:463px;top:198.1px" width="32" height="32" viewBox="0 0 32 32">
<g fill="#d0404c" font-weight="bold" font-size="4.2" text-anchor="middle" dominant-baseline="central" opacity="0.85">
<text x="7" y="12" transform="rotate(-60 7 12)">联</text><text x="10.2" y="7.6" transform="rotate(-35 10.2 7.6)">通</text><text x="15" y="5.8" transform="rotate(-5 15 5.8)">公</text><text x="20" y="6.6" transform="rotate(25 20 6.6)">司</text>
<text x="16" y="26" font-size="3" font-weight="normal" opacity="0.8">合同章</text></g></svg>
<div class="ab" style="left:494.4px;top:196.8px;width:3.6px;height:3.6px;border-radius:50%;background:#4a525e"></div>
<div class="ab" style="left:548.4px;top:163.2px;width:48.6px;height:102.3px;background:#ffffff"></div>
<div class="ab" style="left:551.2px;top:169.9px;width:1.2px;height:4px;background:#6aa0dc"></div>
<div class="t" style="left:556.6px;top:169.2px;font-size:3.6px;line-height:4px;color:#222;font-weight:bold">选择个人印章</div>
<div class="t" style="left:556.6px;top:173.2px;font-size:3.6px;line-height:4px;color:#e03c3c">(请选择以下可用印章)</div>
<div class="ab" style="left:552px;top:180.9px;width:41.6px;height:10px;background:#fbf8b4"></div>
<div class="ab" style="left:554.8px;top:183px;width:37.1px;height:6.1px;background:#f3f3f3;border:0.5px solid #dedede"></div>
<div class="t" style="left:557px;top:184.2px;font-size:3.4px;line-height:4px;color:#555">公司章</div>
<div class="ab" style="left:586.6px;top:184.3px;width:3.4px;height:3.4px;background:#d2d2d2;border:0.4px solid #bbb"></div>
<div class="ab" style="left:555px;top:192.1px;width:37.2px;height:32.1px;border:1.4px solid #f6f3a8;background:#fcfcfd"></div>
<svg class="ab" style="left:556.6px;top:191.2px;opacity:1.0" width="34.8" height="34.8" viewBox="0 0 34.8 34.8"><circle cx="17.4" cy="17.4" r="14.75" fill="none" stroke="#cc2f3a" stroke-width="1.3"/><polygon points="17.40,12.80 18.54,15.84 21.77,15.98 19.24,18.00 20.10,21.12 17.40,19.33 14.70,21.12 15.56,18.00 13.03,15.98 16.26,15.84" fill="#cc2f3a"/></svg>
<svg class="ab" style="left:558px;top:192.6px" width="32" height="32" viewBox="0 0 32 32">
<g fill="#d23c46" font-weight="bold" font-size="4" text-anchor="middle" dominant-baseline="central">
<text x="8.3" y="10.6" transform="rotate(-50 8.3 10.6)">新</text><text x="12" y="7.2" transform="rotate(-22 12 7.2)">蓝</text><text x="16" y="6.2">天</text><text x="20" y="7.2" transform="rotate(22 20 7.2)">科</text><text x="23.7" y="10.6" transform="rotate(50 23.7 10.6)">技</text>
<text x="16" y="25.6" font-size="3" font-weight="normal" opacity="0.8">合同章</text></g></svg>
<div class="ab" style="left:552px;top:230.3px;width:44px;height:11.4px;background:#fbf8b4"></div>
<div class="ab" style="left:553.9px;top:232px;width:39.7px;height:7.9px;border-radius:4px;background:#e05656"></div>
<div class="t" style="left:567.2px;top:234.1px;font-size:3.5px;line-height:4px;color:#fbe0e0">确定盖章</div>
<div class="t" style="left:556px;top:242.3px;font-size:3.6px;line-height:4px;color:#222;font-weight:bold">盖章说明：</div>
<div class="t" style="left:556px;top:247.1px;font-size:3.4px;line-height:4px;color:#555">请点击或拖动印章到合同文件</div>
<div class="t" style="left:556px;top:250.8px;font-size:3.4px;line-height:4px;color:#555">中的签章位置。</div>
<div class="ab" style="left:477px;top:267.6px;width:23.5px;height:7.8px;border-radius:4px;background:#8cb6ee"></div>
<div class="t" style="left:482.75px;top:269.6px;width:12px;text-align:center;font-size:3.3px;line-height:4px;color:#f2f7fd">手动盖章</div>
<div class="ab" style="left:503px;top:267.6px;width:24px;height:7.8px;border-radius:4px;background:#3c8be3"></div>
<div class="t" style="left:509.0px;top:269.6px;width:12px;text-align:center;font-size:3.3px;line-height:4px;color:#f2f7fd">批量盖章</div>
<div class="ab" style="left:529px;top:267.6px;width:24px;height:7.8px;border-radius:4px;background:#3c8be3"></div>
<div class="t" style="left:535.0px;top:269.6px;width:12px;text-align:center;font-size:3.3px;line-height:4px;color:#f2f7fd">骑缝签章</div>
<div class="ab" style="left:554.5px;top:267.6px;width:24.299999999999955px;height:7.8px;border-radius:4px;background:#4fae55"></div>
<div class="t" style="left:560.65px;top:269.6px;width:12px;text-align:center;font-size:3.3px;line-height:4px;color:#f2f7fd">完成签署</div>
<div class="t" style="left:585.5px;top:269.6px;font-size:3.6px;line-height:4px;color:#777">返回</div>
<div class="t" style="left:531.3px;top:176.2px;font-family:'Liberation Serif',serif;font-size:5.2px;line-height:6px;color:#3a3a3a;font-weight:normal;-webkit-text-stroke:0.15px #3a3a3a">1.选择</div>
<div class="t" style="left:517.6px;top:200px;font-family:'Liberation Serif',serif;font-size:5.2px;line-height:6px;color:#3a3a3a;font-weight:normal;-webkit-text-stroke:0.15px #3a3a3a">2.拖动</div>
<div class="t" style="left:528.8px;top:241.4px;font-family:'Liberation Serif',serif;font-size:5.2px;line-height:6px;color:#3a3a3a;font-weight:normal;-webkit-text-stroke:0.15px #3a3a3a">3.确认</div>
<svg class="ab" style="left:0;top:0" width="640" height="300" viewBox="0 0 640 300">
<g stroke="#c8323c" stroke-width="1.1" fill="#c8323c">
<line x1="541.3" y1="179.8" x2="549" y2="183.8"/><polygon points="551.5,185.2 547.2,185.2 549.2,181.6" stroke="none"/>
<line x1="554" y1="206.4" x2="506" y2="206.4"/><polygon points="503.5,206.4 507.5,204.6 507.5,208.2" stroke="none"/>
<line x1="540.3" y1="243.4" x2="549" y2="237.3"/><polygon points="551.2,235.8 549.9,239.4 547.4,236.4" stroke="none"/>
</g></svg>
<div class="ab" style="left:27.3px;top:317.4px;width:216.5px;height:205.6px;border:1px solid #c2c9d5;background:#fff"></div>
<div class="t" style="left:68.6px;top:325px;font-family:'Liberation Serif',serif;font-size:9.4px;line-height:12px;font-weight:bold;color:#d82a2a;letter-spacing:0.36px;-webkit-text-stroke:0.25px #d82a2a">联通XX公司电子签章系统简介</div>
<div class="t" style="left:171px;top:336.6px;font-size:4.3px;line-height:5px;font-weight:bold;color:#d83030">当前版本号：v1.0.0</div>
<div class="ab" style="left:54.7px;top:344px;width:152.5px;height:1px;background:#e9a0a6"></div>
<div class="t" style="left:54.7px;top:348.60px;width:152.5px;overflow:hidden;font-size:4.6px;line-height:4.6px;color:#000;font-weight:normal">　　电子签章系统采用了中标和技术，基于国际公认的公钥基础设施（PKI）体系，产品应</div>
<div class="t" style="left:54.7px;top:354.34px;width:152.5px;overflow:hidden;font-size:4.6px;line-height:4.6px;color:#000;font-weight:normal">以及开发流程和符合国际标准，通过采用数字签名的在现行国家标准RSA算法（1024位）对</div>
<div class="t" style="left:54.7px;top:360.08px;width:152.5px;overflow:hidden;font-size:4.6px;line-height:4.6px;color:#000;font-weight:normal">印章进行数字签名，能够在电子印章的可信度和性，防止可篡改的印章从被复制，同时利用盖章</div>
<div class="t" style="left:54.7px;top:365.82px;width:149.4px;overflow:hidden;font-size:4.6px;line-height:4.6px;color:#000;font-weight:normal">用在技术能够确保签章的在线管控电子文档的合法性；保障电子公文的真实性和完整性。</div>
<div class="t" style="left:54.7px;top:371.56px;width:152.5px;overflow:hidden;font-size:4.6px;line-height:4.6px;color:#000;font-weight:normal">　　电子签章系统采用嵌入式设计，在MS Word、Excel等常用办公软件中加入签章按钮，</div>
<div class="t" style="left:54.7px;top:377.30px;width:152.5px;overflow:hidden;font-size:4.6px;line-height:4.6px;color:#000;font-weight:normal">使用简易电子签名，印章，并能方便地对签章文档进行签章操作和验证操作，具有</div>
<div class="t" style="left:54.7px;top:383.04px;width:152.5px;overflow:hidden;font-size:4.6px;line-height:4.6px;color:#000;font-weight:normal">安全性验证，文档防篡改保护，印章加密和解密，查看和验证证书，签章等功能，</div>
<div class="t" style="left:54.7px;top:388.78px;width:152.5px;overflow:hidden;font-size:4.6px;line-height:4.6px;color:#000;font-weight:normal">该系统支持Win98、Win2000及WinXP等操作系统，能嵌入到Office97、Office2000、</div>
<div class="t" style="left:54.7px;top:394.52px;width:91.5px;overflow:hidden;font-size:4.6px;line-height:4.6px;color:#000;font-weight:normal">以及Office2003等办公软件中，并兼容各类OA系统。</div>
<div class="t" style="left:54.7px;top:400.26px;width:152.5px;overflow:hidden;font-size:4.6px;line-height:4.6px;color:#000;font-weight:normal">　　电子签章系统(网络版)采用网络集中管控，所有的印章信息都记录于印章服务器，</div>
<div class="t" style="left:54.7px;top:406.00px;width:152.5px;overflow:hidden;font-size:4.6px;line-height:4.6px;color:#000;font-weight:normal">并进行集中化的管理，管理者都能够对印章的使用情况进行监控，文档的打印，所有使用</div>
<div class="t" style="left:54.7px;top:411.74px;width:73.2px;overflow:hidden;font-size:4.6px;line-height:4.6px;color:#000;font-weight:normal">户都有权限的操作，多个盖印，印章撤销，印章撤回等。</div>
<div class="t" style="left:54.7px;top:417.48px;width:152.5px;overflow:hidden;font-size:4.6px;line-height:4.6px;color:#000;font-weight:normal">　　电子签章系统(网络版)采用Web插件形式来实现基于网络通用平台，安全系统以及</div>
<div class="t" style="left:54.7px;top:423.22px;width:115.9px;overflow:hidden;font-size:4.6px;line-height:4.6px;color:#000;font-weight:normal">和不同系统兼容，能广泛应用于各类行业的办公平台中，技术的智能化平台。</div>
<div class="t" style="left:54.7px;top:428.96px;width:152.5px;overflow:hidden;font-size:4.6px;line-height:4.6px;color:#000;font-weight:normal">　　电子签章系统所记录的全部的印章，方便的对数据进行分析，且电子签章的合法全部使用限</div>
<div class="t" style="left:54.7px;top:434.70px;width:152.5px;overflow:hidden;font-size:4.6px;line-height:4.6px;color:#000;font-weight:normal">签章，在—次使用中，不能多次签章，只在系统里的签章中进行使用，并支持查看。</div>
<svg class="ab" style="left:50.35px;top:423.90000000000003px;opacity:1.0" width="48.8" height="48.8" viewBox="0 0 48.8 48.8"><circle cx="24.4" cy="24.4" r="20.599999999999998" fill="none" stroke="#c8303a" stroke-width="1.4"/><text x="11.43" y="31.89" font-size="5.35" fill="#d04a56" opacity="0.9" text-anchor="middle" dominant-baseline="central" font-family="Liberation Serif, serif" font-weight="bold" transform="rotate(-120.0 11.43 31.89)">联</text><text x="9.50" y="25.97" font-size="5.35" fill="#d04a56" opacity="0.9" text-anchor="middle" dominant-baseline="central" font-family="Liberation Serif, serif" font-weight="bold" transform="rotate(-96.0 9.50 25.97)">通</text><text x="10.15" y="19.77" font-size="5.35" fill="#d04a56" opacity="0.9" text-anchor="middle" dominant-baseline="central" font-family="Liberation Serif, serif" font-weight="bold" transform="rotate(-72.0 10.15 19.77)">公</text><text x="13.27" y="14.38" font-size="5.35" fill="#d04a56" opacity="0.9" text-anchor="middle" dominant-baseline="central" font-family="Liberation Serif, serif" font-weight="bold" transform="rotate(-48.0 13.27 14.38)">司</text><text x="18.31" y="10.72" font-size="5.35" fill="#d04a56" opacity="0.9" text-anchor="middle" dominant-baseline="central" font-family="Liberation Serif, serif" font-weight="bold" transform="rotate(-24.0 18.31 10.72)">电</text><text x="24.40" y="9.42" font-size="5.35" fill="#d04a56" opacity="0.9" text-anchor="middle" dominant-baseline="central" font-family="Liberation Serif, serif" font-weight="bold" transform="rotate(0.0 24.40 9.42)">子</text><text x="30.49" y="10.72" font-size="5.35" fill="#d04a56" opacity="0.9" text-anchor="middle" dominant-baseline="central" font-family="Liberation Serif, serif" font-weight="bold" transform="rotate(24.0 30.49 10.72)">合</text><text x="35.53" y="14.38" font-size="5.35" fill="#d04a56" opacity="0.9" text-anchor="middle" dominant-baseline="central" font-family="Liberation Serif, serif" font-weight="bold" transform="rotate(48.0 35.53 14.38)">同</text><text x="38.65" y="19.77" font-size="5.35" fill="#d04a56" opacity="0.9" text-anchor="middle" dominant-baseline="central" font-family="Liberation Serif, serif" font-weight="bold" transform="rotate(72.0 38.65 19.77)">专</text><text x="39.30" y="25.97" font-size="5.35" fill="#d04a56" opacity="0.9" text-anchor="middle" dominant-baseline="central" font-family="Liberation Serif, serif" font-weight="bold" transform="rotate(96.0 39.30 25.97)">用</text><text x="37.37" y="31.89" font-size="5.35" fill="#d04a56" opacity="0.9" text-anchor="middle" dominant-baseline="central" font-family="Liberation Serif, serif" font-weight="bold" transform="rotate(120.0 37.37 31.89)">章</text><polygon points="24.40,18.62 25.83,22.44 29.90,22.61 26.71,25.15 27.80,29.07 24.40,26.83 21.00,29.07 22.09,25.15 18.90,22.61 22.97,22.44" fill="#c8303a"/><text x="24.4" y="37.24" font-size="5.14" fill="#d04a56" opacity="0.9" text-anchor="middle" dominant-baseline="central" font-family="Liberation Serif, serif" font-weight="bold" letter-spacing="3.00">演示章</text></svg>
<svg class="ab" style="left:101.5px;top:424.0px;opacity:1.0" width="48.6" height="48.6" viewBox="0 0 48.6 48.6"><circle cx="24.3" cy="24.3" r="20.5" fill="none" stroke="#c8303a" stroke-width="1.4"/><text x="11.39" y="31.76" font-size="5.33" fill="#d04a56" opacity="0.9" text-anchor="middle" dominant-baseline="central" font-family="Liberation Serif, serif" font-weight="bold" transform="rotate(-120.0 11.39 31.76)">联</text><text x="9.47" y="25.86" font-size="5.33" fill="#d04a56" opacity="0.9" text-anchor="middle" dominant-baseline="central" font-family="Liberation Serif, serif" font-weight="bold" transform="rotate(-96.0 9.47 25.86)">通</text><text x="10.12" y="19.69" font-size="5.33" fill="#d04a56" opacity="0.9" text-anchor="middle" dominant-baseline="central" font-family="Liberation Serif, serif" font-weight="bold" transform="rotate(-72.0 10.12 19.69)">公</text><text x="13.22" y="14.32" font-size="5.33" fill="#d04a56" opacity="0.9" text-anchor="middle" dominant-baseline="central" font-family="Liberation Serif, serif" font-weight="bold" transform="rotate(-48.0 13.22 14.32)">司</text><text x="18.24" y="10.68" font-size="5.33" fill="#d04a56" opacity="0.9" text-anchor="middle" dominant-baseline="central" font-family="Liberation Serif, serif" font-weight="bold" transform="rotate(-24.0 18.24 10.68)">电</text><text x="24.30" y="9.39" font-size="5.33" fill="#d04a56" opacity="0.9" text-anchor="middle" dominant-baseline="central" font-family="Liberation Serif, serif" font-weight="bold" transform="rotate(0.0 24.30 9.39)">子</text><text x="30.36" y="10.68" font-size="5.33" fill="#d04a56" opacity="0.9" text-anchor="middle" dominant-baseline="central" font-family="Liberation Serif, serif" font-weight="bold" transform="rotate(24.0 30.36 10.68)">合</text><text x="35.38" y="14.32" font-size="5.33" fill="#d04a56" opacity="0.9" text-anchor="middle" dominant-baseline="central" font-family="Liberation Serif, serif" font-weight="bold" transform="rotate(48.0 35.38 14.32)">同</text><text x="38.48" y="19.69" font-size="5.33" fill="#d04a56" opacity="0.9" text-anchor="middle" dominant-baseline="central" font-family="Liberation Serif, serif" font-weight="bold" transform="rotate(72.0 38.48 19.69)">专</text><text x="39.13" y="25.86" font-size="5.33" fill="#d04a56" opacity="0.9" text-anchor="middle" dominant-baseline="central" font-family="Liberation Serif, serif" font-weight="bold" transform="rotate(96.0 39.13 25.86)">用</text><text x="37.21" y="31.75" font-size="5.33" fill="#d04a56" opacity="0.9" text-anchor="middle" dominant-baseline="central" font-family="Liberation Serif, serif" font-weight="bold" transform="rotate(120.0 37.21 31.75)">章</text><polygon points="24.30,18.55 25.72,22.35 29.77,22.52 26.60,25.05 27.68,28.95 24.30,26.72 20.92,28.95 22.00,25.05 18.83,22.52 22.88,22.35" fill="#c8303a"/><text x="24.3" y="37.08" font-size="5.11" fill="#d04a56" opacity="0.9" text-anchor="middle" dominant-baseline="central" font-family="Liberation Serif, serif" font-weight="bold" letter-spacing="2.98">演示章</text></svg>
<svg class="ab" style="left:148.20000000000002px;top:424.79999999999995px;opacity:1.0" width="49.2" height="49.2" viewBox="0 0 49.2 49.2"><circle cx="24.6" cy="24.6" r="20.8" fill="none" stroke="#7a7a7a" stroke-width="1.4"/><text x="11.51" y="32.16" font-size="5.40" fill="#8a8a8a" opacity="0.9" text-anchor="middle" dominant-baseline="central" font-family="Liberation Serif, serif" font-weight="bold" transform="rotate(-120.0 11.51 32.16)">联</text><text x="9.56" y="26.18" font-size="5.40" fill="#8a8a8a" opacity="0.9" text-anchor="middle" dominant-baseline="central" font-family="Liberation Serif, serif" font-weight="bold" transform="rotate(-96.0 9.56 26.18)">通</text><text x="10.22" y="19.93" font-size="5.40" fill="#8a8a8a" opacity="0.9" text-anchor="middle" dominant-baseline="central" font-family="Liberation Serif, serif" font-weight="bold" transform="rotate(-72.0 10.22 19.93)">公</text><text x="13.36" y="14.48" font-size="5.40" fill="#8a8a8a" opacity="0.9" text-anchor="middle" dominant-baseline="central" font-family="Liberation Serif, serif" font-weight="bold" transform="rotate(-48.0 13.36 14.48)">司</text><text x="18.45" y="10.79" font-size="5.40" fill="#8a8a8a" opacity="0.9" text-anchor="middle" dominant-baseline="central" font-family="Liberation Serif, serif" font-weight="bold" transform="rotate(-24.0 18.45 10.79)">电</text><text x="24.60" y="9.48" font-size="5.40" fill="#8a8a8a" opacity="0.9" text-anchor="middle" dominant-baseline="central" font-family="Liberation Serif, serif" font-weight="bold" transform="rotate(0.0 24.60 9.48)">子</text><text x="30.75" y="10.79" font-size="5.40" fill="#8a8a8a" opacity="0.9" text-anchor="middle" dominant-baseline="central" font-family="Liberation Serif, serif" font-weight="bold" transform="rotate(24.0 30.75 10.79)">合</text><text x="35.84" y="14.48" font-size="5.40" fill="#8a8a8a" opacity="0.9" text-anchor="middle" dominant-baseline="central" font-family="Liberation Serif, serif" font-weight="bold" transform="rotate(48.0 35.84 14.48)">同</text><text x="38.98" y="19.93" font-size="5.40" fill="#8a8a8a" opacity="0.9" text-anchor="middle" dominant-baseline="central" font-family="Liberation Serif, serif" font-weight="bold" transform="rotate(72.0 38.98 19.93)">专</text><text x="39.64" y="26.18" font-size="5.40" fill="#8a8a8a" opacity="0.9" text-anchor="middle" dominant-baseline="central" font-family="Liberation Serif, serif" font-weight="bold" transform="rotate(96.0 39.64 26.18)">用</text><text x="37.69" y="32.16" font-size="5.40" fill="#8a8a8a" opacity="0.9" text-anchor="middle" dominant-baseline="central" font-family="Liberation Serif, serif" font-weight="bold" transform="rotate(120.0 37.69 32.16)">章</text><polygon points="24.60,18.77 26.04,22.62 30.15,22.80 26.93,25.36 28.03,29.32 24.60,27.05 21.17,29.32 22.27,25.36 19.05,22.80 23.16,22.62" fill="#7a7a7a"/><text x="24.6" y="37.56" font-size="5.18" fill="#8a8a8a" opacity="0.9" text-anchor="middle" dominant-baseline="central" font-family="Liberation Serif, serif" font-weight="bold" letter-spacing="3.02">演示章</text></svg>
<svg class="ab" style="left:0;top:300px" width="260" height="240" viewBox="0 300 260 240">
<path d="M170.3,372.9 H233.6 V387.3 H195 L180.3,426 L181.2,387.3 H170.3 Z" fill="#9dc6f5" stroke="#42536a" stroke-width="0.8"/>
<path d="M31.25,494.4 H82.8 L117.2,468.6 L104.7,494.4 H119.5 V519 H31.25 Z" fill="#9dc6f5" stroke="#42536a" stroke-width="0.8"/>
</svg>
<div class="t" style="left:192.3px;top:375.8px;font-size:9px;line-height:11px;color:#1f2f4a">脱密</div>
<div class="t" style="left:57.6px;top:496.6px;font-size:8.6px;line-height:11px;color:#1f2f4a">印章雾化</div>
<div class="ab" style="left:265.4px;top:363.59999999999997px;width:4.4px;height:4.4px;border-radius:50%;background:#b82028"></div>
<div class="t" style="left:299.7px;top:355.79999999999995px;font-size:18.6px;line-height:24px;color:#1e1e1e">纯线上模式签署</div>
<div class="ab" style="left:265.4px;top:392.79999999999995px;width:4.4px;height:4.4px;border-radius:50%;background:#b82028"></div>
<div class="t" style="left:299.7px;top:384.99999999999994px;font-size:18.6px;line-height:24px;color:#1e1e1e">支持PC、手机</div>
<div class="ab" style="left:265.4px;top:421.99999999999994px;width:4.4px;height:4.4px;border-radius:50%;background:#b82028"></div>
<div class="t" style="left:299.7px;top:414.19999999999993px;font-size:18.6px;line-height:24px;color:#1e1e1e">合法合规、省时省力</div>
</div></body></html>
